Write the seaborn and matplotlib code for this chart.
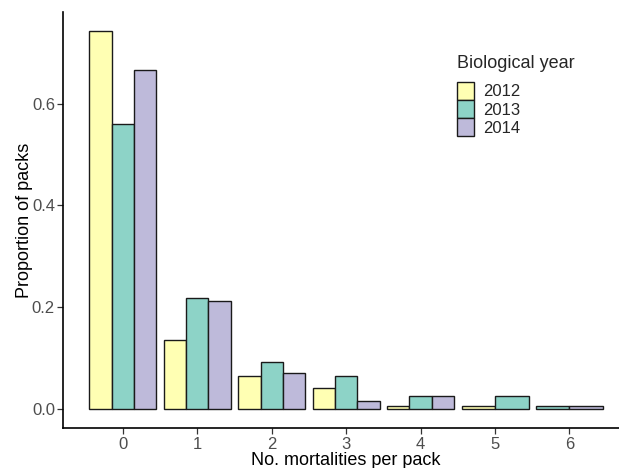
import matplotlib
matplotlib.use("Agg")
import matplotlib.pyplot as plt
import seaborn as sns
import pandas as pd
import numpy as np

mortalities = ["0", "1", "2", "3", "4", "5", "6"]
years = ["2012", "2013", "2014"]
prop_2012 = [0.742, 0.137, 0.065, 0.042, 0.006, 0.006, np.nan]
prop_2013 = [0.560, 0.219, 0.093, 0.065, 0.027, 0.027, 0.006]
prop_2014 = [0.665, 0.213, 0.072, 0.016, 0.027, np.nan, 0.006]
colors = ["#FFFFB3", "#8DD3C7", "#BEBADA"]
y_ticks = [0.0, 0.2, 0.4, 0.6]

rows = []
for yr, vals in zip(years, [prop_2012, prop_2013, prop_2014]):
    for m, v in zip(mortalities, vals):
        rows.append({"mort": m, "year": yr, "prop": v})
df = pd.DataFrame(rows).dropna()

sns.set_theme(style="white")
plt.rcParams["font.family"] = ["Liberation Sans", "DejaVu Sans"]

fig = plt.figure(figsize=(6.19, 4.68), dpi=100)
ax = fig.add_axes([63.3 / 619, 1 - 428.3 / 468, (629 - 63.3) / 619, (428.3 - 12.3) / 468])

sns.barplot(data=df, x="mort", y="prop", hue="year", order=mortalities,
            hue_order=years, palette=colors, edgecolor="#1a1a1a", linewidth=1.0,
            width=0.9, gap=0, errorbar=None, saturation=1, ax=ax)

# ggplot-style dodge: bars in a category share the full width among present groups
total_w = 0.9
groups = {}
for hi, cont in enumerate(ax.containers):
    for p in cont.patches:
        if np.isnan(p.get_height()):
            continue
        c = int(round(p.get_x() + p.get_width() / 2))
        groups.setdefault(c, []).append((hi, p))
for c, items in groups.items():
    items.sort(key=lambda t: t[0])
    n = len(items)
    w = total_w / n
    for k, (hi, p) in enumerate(items):
        p.set_x(c - total_w / 2 + k * w)
        p.set_width(w)

ax.set_xlim(-0.8, 6.8)
ax.set_ylim(-0.0371, 0.779)
ax.set_yticks(y_ticks)
ax.set_yticklabels([f"{t:.1f}" for t in y_ticks])

for s in ["top", "right"]:
    ax.spines[s].set_visible(False)
for s in ["left", "bottom"]:
    ax.spines[s].set_color("black")
    ax.spines[s].set_linewidth(1.2)

ax.tick_params(axis="both", which="both", length=4, width=0.9, color="#333333",
               labelcolor="#4D4D4D", labelsize=12, pad=2, bottom=True, left=True)
ax.set_xlabel("No. mortalities per pack", fontsize=13, color="black", labelpad=0)
ax.set_ylabel("Proportion of packs", fontsize=13, color="black", labelpad=-0.5)

leg = ax.legend(title="Biological year", loc="upper left",
                frameon=False, fontsize=12, title_fontsize=13,
                handlelength=1.02, handleheight=1.3, labelspacing=0.0,
                handletextpad=0.56, borderaxespad=0, borderpad=0)
leg.set_bbox_to_anchor((456.7 / 619, 1 - 55 / 468), transform=fig.transFigure)
leg._legend_box.align = "left"
leg._legend_box.sep = 7
for h in leg.legend_handles:
    h.set_edgecolor("#1a1a1a")
    h.set_linewidth(1.0)

fig.savefig("out.png", dpi=100)
